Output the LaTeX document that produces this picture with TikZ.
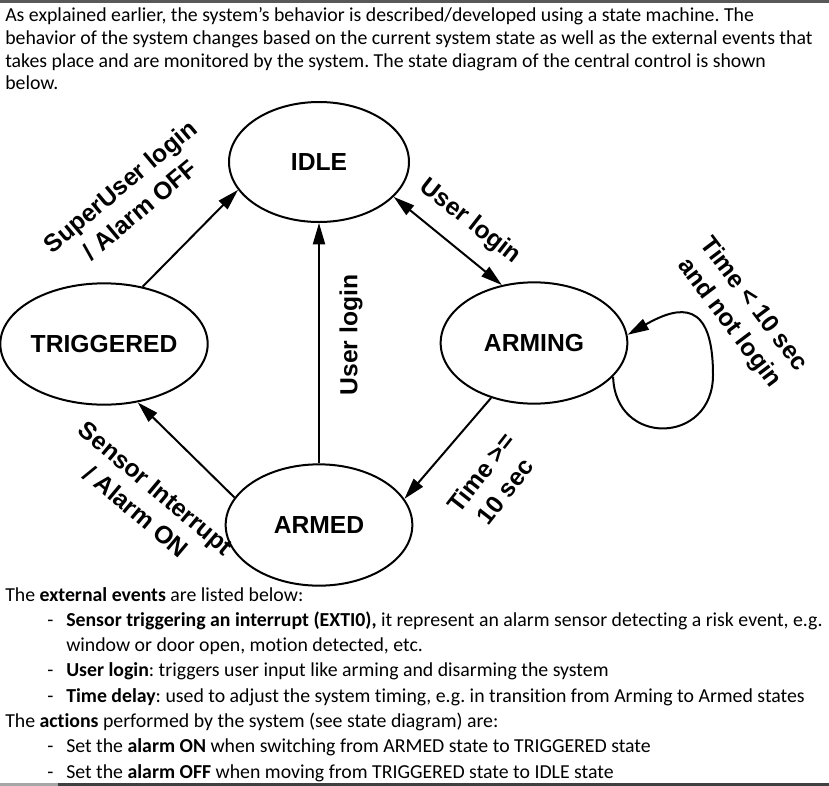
\documentclass[tikz,border=0pt]{standalone}
\usepackage{fontspec}
\setmainfont{Carlito}[Ligatures=NoCommon]
\newfontfamily\diagfont{Liberation Sans}
\usetikzlibrary{shapes.geometric,arrows.meta,positioning}
\frenchspacing

\begin{document}
\begin{tikzpicture}[
    x=0.75pt, y=-0.75pt,
    statebox/.style={ellipse, draw=black, line width=1.5pt, minimum width=140pt, minimum height=91pt, inner sep=0pt, font=\diagfont\bfseries\fontsize{18.5}{23}\selectfont},
    edgelabel/.style={align=center, inner sep=0pt, font=\diagfont\bfseries\fontsize{18.5}{23}\selectfont},
    arrow/.style={-{Triangle[length=16pt,width=9pt]}, line width=1.5pt},
    dblarrow/.style={{Triangle[length=16pt,width=9pt]}-{Triangle[length=16pt,width=9pt]}, line width=1.5pt},
    bodyline/.style={anchor=base west, inner sep=0pt, font=\fontsize{14.85}{17.4}\selectfont}
]
\useasboundingbox (0,0) rectangle (829,786);

% screenshot edges
\fill[black!65] (0,0) rectangle (829,3);
\fill[black!35] (0,783) rectangle (58,786);
\fill[black!75] (58,783) rectangle (829,786);

% Text above the diagram
\node[bodyline] (intro1) at (5,21) {As explained earlier, the system’s behavior is described/developed using a state machine. The};
\node[bodyline] (intro2) at (5,44) {behavior of the system changes based on the current system state as well as the external events that};
\node[bodyline] (intro3) at (5,67) {takes place and are monitored by the system. The state diagram of the central control is shown};
\node[bodyline] (intro4) at (5,89) {below.};

% States
\node[statebox, minimum width=135pt, minimum height=90pt] (idle) at (319,162) {IDLE};
\node[statebox] (trig) at (104,344) {TRIGGERED};
\node[statebox] (arming) at (534,343) {ARMING};
\node[statebox] (armed) at (319,525) {ARMED};

% Transitions
\draw[arrow] (trig.56) -- (idle.199);
\draw[arrow] (armed.north) -- (idle.south);
\draw[dblarrow] (idle.335) -- (arming.119);
\draw[arrow] (arming.232) -- (armed.17);
\draw[arrow] (armed.162) -- (trig.300);
\draw[arrow] (arming.337) .. controls (615,447) and (713,445) .. (713,375)
    .. controls (713,300) and (680,305) .. (arming.5);

% Transition labels
\node[edgelabel, rotate=40] (lblsuper) at (130,198) {SuperUser login\\/ Alarm OFF};
\node[edgelabel, rotate=90] (lbluser) at (351,335) {User login};
\node[edgelabel, rotate=-38] (lbllogin) at (470,222) {User login};
\node[edgelabel, rotate=-53] (lblwait) at (741,314) {Time < 10 sec\\and not login};
\node[edgelabel, rotate=52] (lbldone) at (493,482) {Time >=\\10 sec};
\node[edgelabel, rotate=-40] (lblsensor) at (146,500) {Sensor Interrupt\\/ Alarm ON};

% Text below the diagram
\node[bodyline] (events) at (5,601) {The \textbf{external events} are listed below:};
\node[bodyline] (ev1) at (66,626) {\textbf{Sensor triggering an interrupt (EXTI0),} it represent an alarm sensor detecting a risk event, e.g.};
\node[bodyline] (ev1b) at (66,651) {window or door open, motion detected, etc.};
\node[bodyline] (ev2) at (66,676) {\textbf{User login}: triggers user input like arming and disarming the system};
\node[bodyline] (ev3) at (66,702) {\textbf{Time delay}: used to adjust the system timing, e.g. in transition from Arming to Armed states};
\node[bodyline] (actions) at (5,727) {The \textbf{actions} performed by the system (see state diagram) are:};
\node[bodyline] (act1) at (66,752) {Set the \textbf{alarm ON} when switching from ARMED state to TRIGGERED state};
\node[bodyline] (act2) at (66,778) {Set the \textbf{alarm OFF} when moving from TRIGGERED state to IDLE state};
\foreach \y in {626,676,702,752,778}
    \node[bodyline] (dash\y) at (47,\y) {-};

\end{tikzpicture}
\end{document}
